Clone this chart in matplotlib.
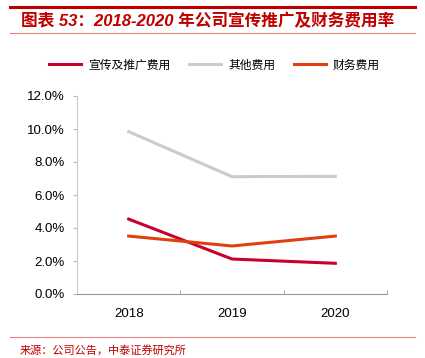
import matplotlib
matplotlib.use("Agg")
import matplotlib.pyplot as plt
from matplotlib.lines import Line2D

plt.rcParams['font.family'] = ['Noto Sans CJK SC', 'DejaVu Sans']

years = ['2018', '2019', '2020']
promo = [4.54, 2.12, 1.86]
other = [9.84, 7.11, 7.13]
finance = [3.51, 2.91, 3.51]
yticks = [0, 2, 4, 6, 8, 10, 12]

W, H = 425, 358
fig = plt.figure(figsize=(W/100, H/100), dpi=100)
ax = fig.add_axes([77/W, 1-294/H, (387-77)/W, (294-96)/H])

x = range(len(years))
ax.plot(x, promo, color='#C8002D', lw=2.2, label='宣传及推广费用')
ax.plot(x, other, color='#CBCBCB', lw=2.2, label='其他费用')
ax.plot(x, finance, color='#E04010', lw=2.2, label='财务费用')

ax.set_xlim(-0.5, 2.5)
ax.set_ylim(0, 12)
ax.set_yticks(yticks)
ax.set_yticklabels([f'{v:.1f}%' for v in yticks], family=['Liberation Sans', 'DejaVu Sans'], fontsize=9.5)
ax.set_xticks(list(x))
ax.set_xticklabels(years, family=['Liberation Sans', 'DejaVu Sans'], fontsize=9.5)
ax.tick_params(axis='x', length=0, pad=10)
ax.set_xticks([-0.5, 0.5, 1.5, 2.5], minor=True)
ax.tick_params(axis='x', which='minor', length=3, color='#999999', direction='in')
ax.tick_params(axis='y', length=3, color='#BBBBBB', pad=6)
for s in ['top', 'right']:
    ax.spines[s].set_visible(False)
ax.spines['left'].set_color('#CCCCCC')
ax.spines['bottom'].set_color('#999999')

leg = fig.legend(handles=ax.get_lines(), loc='center', bbox_to_anchor=(0.505, 1-65/H),
                 ncol=3, frameon=False, fontsize=8.5, handlelength=2.7, columnspacing=1.6,
                 handletextpad=0.6)

# title & decorations
fig.add_artist(Line2D([10/W, 415/W], [1-7/H, 1-7/H], color='#C00000', lw=2.2))
fig.add_artist(Line2D([10/W, 415/W], [1-33/H, 1-33/H], color='#E88080', lw=0.8))
fig.text(21/W, 1-21/H, '图表 53：2018-2020 年公司宣传推广及财务费用率', color='#C00000',
         fontsize=12, fontweight='bold', va='center', ha='left', style='italic',
         family=['Liberation Sans', 'Noto Sans CJK SC'])
fig.add_artist(Line2D([10/W, 415/W], [1-337/H, 1-337/H], color='#E88080', lw=0.8))
fig.text(20/W, 1-350/H, '来源：公司公告，中泰证券研究所', color='#C00000', fontsize=8,
         va='center', ha='left')

fig.savefig('out.png', dpi=100)
